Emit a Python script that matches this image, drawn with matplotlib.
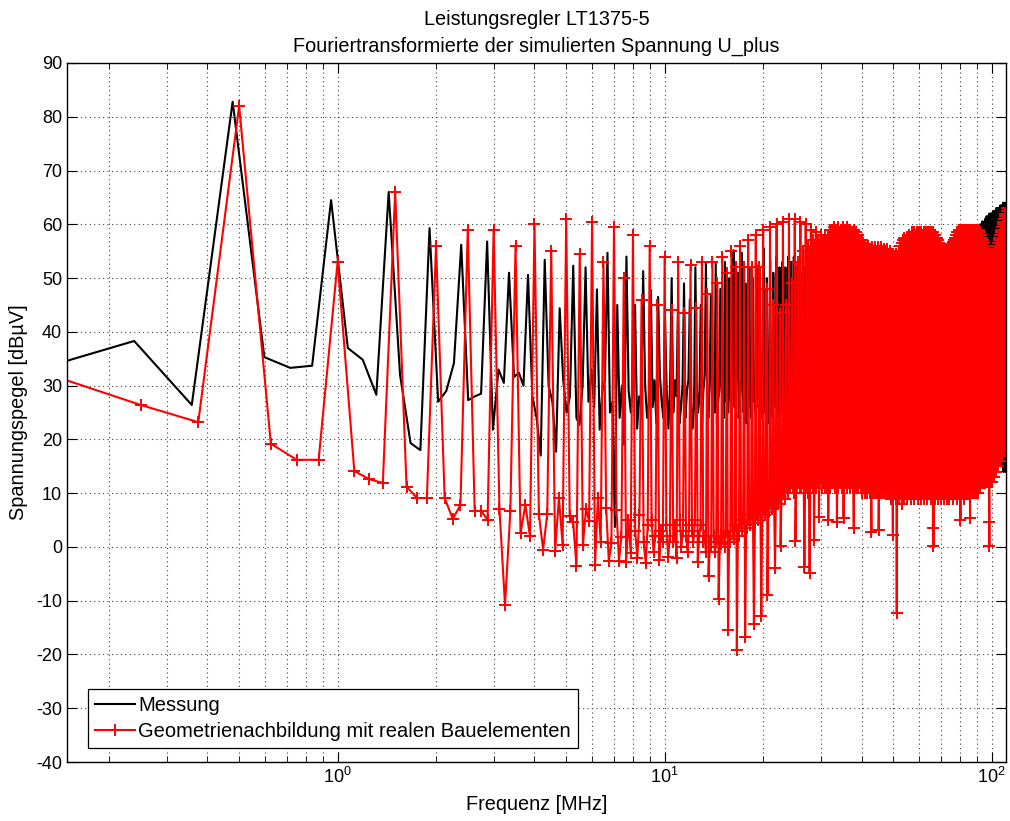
import matplotlib
matplotlib.use("Agg")
import matplotlib.pyplot as plt
import numpy as np

plt.rcParams['font.family'] = ['Liberation Sans', 'DejaVu Sans']
plt.rcParams['axes.unicode_minus'] = False

# FFT bin widths in MHz
df_red = 0.125
df_blk = 0.1194

# red: peaks at every 4th bin (switching harmonics), three bins between
red_peak = [
    82, 53, 66, 56, 59, 59, 56, 60, 55, 61,
    54.5, 60.5, 53, 59.5, 50, 58, 46, 56, 45, 54,
    44, 53, 43.5, 52.5, 44.5, 53, 47, 53, 49, 54,
    51, 55, 52, 56, 52, 57, 52, 58, 52, 59,
    48, 59.5, 45, 60, 43.5, 60.5, 45, 61, 49, 61,
    53, 60.5, 55, 60, 56, 59, 57, 58.5, 57, 58,
    57, 58, 58, 59, 59, 59.5, 59, 59.5, 59, 59.5,
    59, 59.5, 59, 59, 58.5, 59, 58.5, 58, 57, 57,
    56.5, 56, 55.5, 56, 55.5, 55.8, 55, 55.8, 55, 55.8,
    55, 55.8, 55, 55.5, 55, 55.5, 54.5, 55, 54.5, 54.5,
    54, 54.5, 54, 55, 56, 56.5, 57, 57.5, 57, 57.5,
    57.5, 58, 57.5, 58.5, 58, 58.5, 58, 58.5, 58, 58.5,
    58.5, 58.5, 58, 58.6, 58, 58.6, 58, 58.6, 58.5, 58.6,
    58, 58.5, 58, 58, 57.5, 57.5, 57, 56.5, 56, 55.5,
    55.2, 55, 55.2, 55, 55.5, 55, 55.8, 55.5, 55.8, 55.8,
    56, 56.5, 57, 57.5, 57.5, 58, 58.5, 58.5, 59, 59,
    59, 58.5, 59, 59, 58.5, 59, 59, 58.5, 59, 59,
    59, 58.5, 59, 59, 58.5, 59, 59, 58.5, 59, 59,
    59, 58.5, 59, 58.5, 58, 58, 57.5, 57, 56.5, 56,
    56, 55.5, 55, 55, 54.5, 54.5, 54, 54.5, 54, 54,
    54, 54.5, 54.5, 55, 55, 55.5, 55.5, 56, 56.5, 57,
    57.5, 58, 58.5, 59, 59.5, 60, 60.5, 61, 61.5, 62,
    62, 62.5, 63, 63,
]

red_low = [
    32.5, 26.4, 23.2, 19.2, 16.2, 16.2, 14.1, 12.6, 11.9, 11.2, 9.1, 9.1, 9.1, 5.2, 7.8, 6.7, 6.7, 5, 7.1, -10.8, 6.7, 2.5, 7.8, 2,
    6.1, -0.5, 6.1, -0.7, 9.1, 0.4, 5.8, 4.6, -3.5, 0.4, 7.1, 4.8, -3.3, 9.1, 0.9, 7.2, -2.6, 0.7, 6.9, -2.6, 1.9, -2.8, 5, -1.2,
    3, -2, 6, 1, -3, 4, 5, -1, 2, -2.4, 3, 1, 4, -1.9, 2, 1, 4, -2, 5, 0, 3, 2, -1, 4,
    3, 1, 5, -2.8, 2, 4, 1, 2, -1, -5.4, 1, 0, 2, -1, 1, -9.7, 1, 0.5, 2, 0, 3, -15.4, 2, 1,
    3, 1.5, 4, -19.2, 3, 2, 4, 3, 5, -16.7, 4, 3.5, 5, 4, 6, 5, -14.3, 4.5, 6, 5, 7, 6.5, -12.8, 6,
    7, 6, 8, -8.9, 7, 6.5, 8, 7, 8.5, 7.5, -3.9, 8, 9, 8, 10, 0.2, 9, 10, 10, 11, 9, 11, 12, 10,
    12, 11, 13, 11, 12, 10, 1.1, 12, 11, 12, 13, 11, 11, 12, 13, 12, -3.7, 11, 13, 12, 10, 11, -4.8, 12,
    12, 13, 11, 1.3, 12, 13, 11, 14, 12, 5.6, 12, 13, 13, 11, 12, 12, 14, 11, 13, 12, 11, 5, 13, 12,
    11, 13, 12, 12, 14, 13, 11, 12, 13, 4.6, 12, 11, 13, 12, 14, 12, 11, 13, 12, 5.4, 11, 13, 12, 14,
    11, 12, 13, 12, 13, 11, 13, 12, 12, 11, 14, 3.5, 12, 11, 13, 13, 12, 11, 11, 13, 12, 12, 11, 13,
    10, 12, 11, 11, 13, 10, 12, 11, 12, 10, 12, 11, 11, 13, 10, 12, 11, 2.8, 10, 12, 11, 11, 10, 12,
    12, 11, 10, 10, 12, 11, 3.2, 11, 12, 11, 10, 12, 12, 11, 10, 10, 12, 11, 11, 10, 12, 12, 11, 10,
    10, 12, 11, 11, 10, 12, 12, 11, 9, 10, 12, 2.2, 11, 12, 10, 12, 11, 9, 10, -12.3, 12, 11, 10, 12,
    11, 9, 13, 12, 10, 14, 8, 11, 12, 13, 10, 9, 11, 12, 14, 10, 13, 11, 12, 9, 10, 13, 11, 12,
    10, 12, 14, 11, 9, 12, 13, 10, 11, 12, 11, 9, 10, 13, 12, 11, 14, 10, 12, 10, 11, 9, 12, 13,
    11, 13, 10, 12, 9, 11, 13, 12, 10, 10, 14, 11, 12, 9, 13, 11, 10, 12, 13, 11, 9, 12, 10, 14,
    10, 12, 11, 13, 10, 12, 11, 9, 13, 12, 11, 10, 3.5, 11, 0.2, 13, 10, 12, 11, 9, 12, 10, 13, 11,
    12, 10, 11, 9, 12, 13, 11, 10, 12, 13, 11, 9, 12, 10, 11, 10, 12, 13, 11, 9, 12, 12, 11, 10,
    13, 10, 12, 11, 12, 9, 10, 13, 11, 12, 11, 10, 9, 12, 13, 11, 10, 12, 12, 13, 10, 10, 11, 12,
    11, 9, 13, 12, 10, 11, 13, 12, 10, 10, 11, 12, 12, 10, 9, 11, 13, 12, 10, 12, 11, 12, 11, 13,
    10, 5, 12, 11, 12, 10, 13, 11, 12, 12, 10, 11, 9, 12, 13, 11, 10, 12, 12, 11, 10, 10, 13, 11,
    12, 10, 11, 11, 12, 13, 13, 11, 10, 10, 12, 5.4, 12, 11, 13, 11, 10, 12, 12, 13, 11, 10, 11, 12,
    11, 12, 10, 13, 11, 12, 12, 10, 11, 11, 13, 12, 10, 12, 13, 12, 11, 10, 13, 12, 11, 11, 13, 12,
    12, 13, 11, 13, 12, 14, 12, 14, 13, 14, 12, 13, 13, 14, 12, 12, 13, 14, 14, 13, 12, 13, 12, 14,
    14, 13, 12, 12, 14, 13, 13, 12, 14, 14, 13, 12, 13, 4.6, 0.2, 12, 14, 13, 14, 12, 13, 13, 14, 12,
    14, 13, 15, 13, 15, 14, 15, 14, 13, 14, 13, 15, 15, 16, 14, 14, 15, 16, 16, 14, 15, 15, 16, 17,
    16, 17, 15, 17, 16, 18, 16, 18, 17, 18, 17, 16, 17, 18, 19, 18, 17, 19, 19, 18, 17, 18, 19, 20,
    19, 18, 20, 20, 19, 18, 19, 20, 21, 20, 19, 21, 21, 20, 19, 20, 21, 22, 22, 21, 20, 21, 22, 23,
]

# black (Messung): same layout on its own bin grid
blk_peak = [
    82.8, 64.5, 66, 59.3, 56.2, 56.8, 51, 50.6, 53.4, 44.4,
    52.3, 52, 47.9, 54.7, 45, 54, 45, 51.3, 47.8, 46.5,
    42, 50, 44, 49, 46, 52, 45, 53, 47, 52.8,
    48, 53, 50, 55.2, 51, 54.7, 49, 52, 50, 52.4,
    48, 55.6, 50, 53.4, 51, 54, 52, 53, 52, 54,
    53, 54, 52, 53, 51, 52, 50, 51, 50, 51,
    50, 49, 50, 49, 50, 48, 49, 48, 49, 48,
    49, 48, 49, 50, 49, 48, 49, 48, 48, 49,
    48, 49, 48, 50, 49, 52, 50, 53, 49, 52,
    50, 54.5, 50, 52, 49, 50, 48, 49, 48, 49,
    48, 49, 48, 47, 48, 49, 48, 49, 48, 49,
    48, 49, 49, 50, 49, 50, 49, 50, 50, 51,
    50, 51, 50, 51, 50, 51, 51, 52, 51, 52,
    51, 52, 51, 52, 52, 53, 52, 53, 52, 53,
    52, 53, 52, 53, 52, 53, 52, 52, 51, 52,
    51, 52, 51, 52, 51, 52, 52, 53, 52, 53,
    53, 54, 53, 54, 54, 55, 54, 55, 55, 56,
    54, 55, 55, 56, 55, 56, 56, 57, 56, 57,
    57, 57.5, 57, 58, 57.5, 58, 58, 58.5, 58, 58.5,
    59, 59.5, 60, 59.5, 60, 60.5, 60.5, 60, 60.5, 61,
    61, 61.5, 61, 61.5, 61.5, 62, 61.5, 62, 62, 62,
    62, 62.5, 62, 62.5, 62.5, 63, 62.5, 63, 63, 63,
    63, 63.5, 63, 63.5, 63.5, 63.5, 64, 63.5, 64, 64,
    64, 64, 64, 64,
]

blk_low = [
    32.9, 38.3, 26.4, 35.3, 33.3, 33.7, 37, 34.8, 28.3, 32, 19.3, 18, 27, 29, 34.2, 27.3, 28, 28.5, 21.8, 33, 30.5, 31.6, 32.4, 30,
    28, 24, 17, 30, 27, 17.7, 31, 25, 28, 24, 22.7, 30, 27, 33, 26, 21.8, 29, 31, 25, 27, 3.7, 24, 30, 19,
    29, 25, 31, 22, 28, 26, 30, 24, 27, 26, 31, 23, 32, 27, 24, 29, 22, 30, 25, 31, 28, 23, 26, 30,
    24, 29, 31, 27, 22, 26, 30, 25, 28, 23, 29, 32, 26, 24, 30, 28, 31, 25, 23, 27, 29, 30, 26, 24,
    27, 31, 25, 29, 23, 28, 26, 30, 32, 24, 27, 29, 31, 25, 28, 23, 30, 26, 28, 24, 31, 27, 29, 25,
    30, 26, 28, 24, 31, 27, 29, 25, 32, 27, 23, 30, 26, 29, 24, 28, 31, 26, 30, 24, 27, 29, 25, 31,
    26, 22, 28, 24, 27, 20, 25, 29, 23, 21, 26, 28, 24, 19, 27, 22, 25, 28, 20, 26, 23, 27, 21, 25,
    24, 18, 26, 22, 27, 20, 25, 23, 19, 28, 21, 24, 26, 22, 18, 23, 27, 20, 25, 21, 24, 19, 26, 22,
    20, 25, 22, 18, 24, 21, 26, 19, 23, 22, 27, 20, 19, 24, 22, 25, 18, 21, 23, 26, 20, 22, 19, 24,
    21, 25, 18, 23, 20, 26, 22, 19, 24, 18, 23, 21, 25, 20, 22, 19, 24, 21, 23, 18, 20, 25, 22, 19,
    24, 20, 22, 18, 25, 21, 23, 19, 20, 24, 22, 18, 21, 25, 19, 23, 20, 22, 24, 18, 21, 23, 20, 25,
    19, 22, 24, 21, 18, 23, 20, 25, 22, 19, 24, 21, 23, 18, 22, 20, 25, 19, 21, 24, 22, 18, 23, 20,
    22, 19, 24, 20, 23, 18, 21, 25, 22, 19, 20, 24, 23, 21, 18, 22, 25, 20, 19, 23, 21, 24, 20, 22,
    21, 18, 23, 24, 20, 22, 19, 25, 21, 23, 18, 20, 22, 24, 19, 21, 23, 20, 25, 18, 22, 20, 24, 21,
    19, 23, 21, 22, 18, 24, 20, 25, 19, 23, 21, 22, 24, 18, 20, 21, 23, 25, 19, 22, 20, 24, 21, 18,
    23, 20, 22, 19, 24, 21, 25, 18, 20, 22, 23, 19, 21, 24, 20, 22, 18, 25, 23, 19, 21, 20, 24, 22,
    20, 23, 19, 24, 21, 18, 22, 25, 20, 19, 23, 21, 24, 20, 22, 18, 21, 25, 23, 19, 20, 22, 24, 21,
    22, 19, 21, 25, 18, 23, 20, 24, 22, 21, 19, 23, 18, 22, 25, 20, 24, 21, 23, 19, 22, 20, 18, 24,
    21, 23, 20, 19, 24, 22, 18, 21, 25, 23, 20, 22, 19, 24, 21, 22, 18, 23, 25, 20, 21, 24, 19, 22,
    20, 22, 24, 18, 21, 23, 25, 19, 22, 21, 24, 20, 23, 18, 22, 20, 25, 21, 19, 23, 24, 22, 20, 21,
    23, 20, 22, 24, 19, 21, 22, 25, 18, 20, 23, 24, 21, 19, 22, 25, 20, 23, 18, 21, 24, 22, 20, 19,
    21, 24, 20, 22, 18, 23, 25, 21, 19, 22, 24, 20, 23, 19, 21, 20, 25, 22, 18, 24, 21, 23, 20, 22,
    24, 21, 19, 22, 23, 20, 18, 25, 21, 23, 20, 22, 19, 24, 21, 22, 25, 20, 23, 18, 21, 20, 24, 22,
    19, 22, 21, 23, 20, 18, 24, 21, 22, 20, 23, 19, 21, 24, 18, 22, 20, 21, 23, 19, 22, 24, 20, 21,
    20, 23, 19, 21, 22, 18, 24, 20, 21, 22, 19, 23, 18, 21, 20, 22, 24, 19, 20, 23, 21, 18, 22, 20,
    21, 19, 23, 20, 22, 18, 19, 21, 20, 23, 18, 22, 20, 19, 21, 22, 18, 20, 19, 21, 23, 20, 18, 21,
    19, 22, 20, 18, 21, 19, 20, 17, 22, 19, 21, 18, 20, 19, 17, 21, 18, 20, 19, 22, 18, 17, 20, 19,
    18, 20, 17, 19, 16, 21, 18, 19, 17, 20, 18, 16, 19, 17, 20, 18, 16, 19, 17, 18, 15, 19, 17, 16,
    18, 16, 19, 17, 15, 18, 16, 17, 14, 18, 16, 15, 17, 14, 16, 18, 15, 17, 16, 14, 17, 15, 16, 14,
    15, 17, 14, 16, 14, 15,
]


def build(lows, peaks):
    n = min(len(peaks), len(lows) // 3)
    out = []
    for i in range(n):
        out.extend(lows[3 * i:3 * i + 3])
        out.append(peaks[i])
    return np.array(out, dtype=float)


red_db = build(red_low, red_peak)
blk_db = build(blk_low, blk_peak)
red_f = df_red * np.arange(1, len(red_db) + 1)
blk_f = df_blk * np.arange(1, len(blk_db) + 1)

fig = plt.figure(figsize=(10.1, 8.21), dpi=100)
ax = fig.add_axes([67 / 1010, 1 - 762 / 821, (1006 - 67) / 1010, (762 - 63) / 821])

ax.semilogx(blk_f, blk_db, color='k', lw=1.5, label='Messung')
ax.semilogx(red_f, red_db, color='r', lw=1.5, marker='+', ms=9, mew=1.4,
            label='Geometrienachbildung mit realen Bauelementen')

ax.set_xlim(0.1488, 110.6)
ax.set_ylim(-40, 90)
ax.set_yticks(range(-40, 91, 10))

ax.grid(True, which='major', ls=(0, (1, 3)), color='0.25', lw=0.8)
ax.xaxis.grid(True, which='minor', ls=(0, (1, 3)), color='0.25', lw=0.8)
ax.tick_params(which='both', direction='in', top=True, right=True, labelsize=13)
ax.tick_params(which='major', length=7)
ax.tick_params(which='minor', length=4)
for s in ax.spines.values():
    s.set_linewidth(1.0)

ax.set_xlabel('Frequenz [MHz]', fontsize=14.3, labelpad=6)
ax.set_ylabel('Spannungspegel [dBµV]', fontsize=14.3, labelpad=6)
ax.set_title('Leistungsregler LT1375-5\nFouriertransformierte der simulierten Spannung U_plus',
             fontsize=14.3, pad=8, linespacing=1.55)

leg = ax.legend(loc='lower left', bbox_to_anchor=(0.0224, 0.02), borderaxespad=0,
                fontsize=14.5, fancybox=False, framealpha=1, edgecolor='k',
                handlelength=2.0, handletextpad=0.15, labelspacing=0.35, borderpad=0.35)
leg.get_frame().set_linewidth(0.9)

fig.savefig('out.png', dpi=100)
